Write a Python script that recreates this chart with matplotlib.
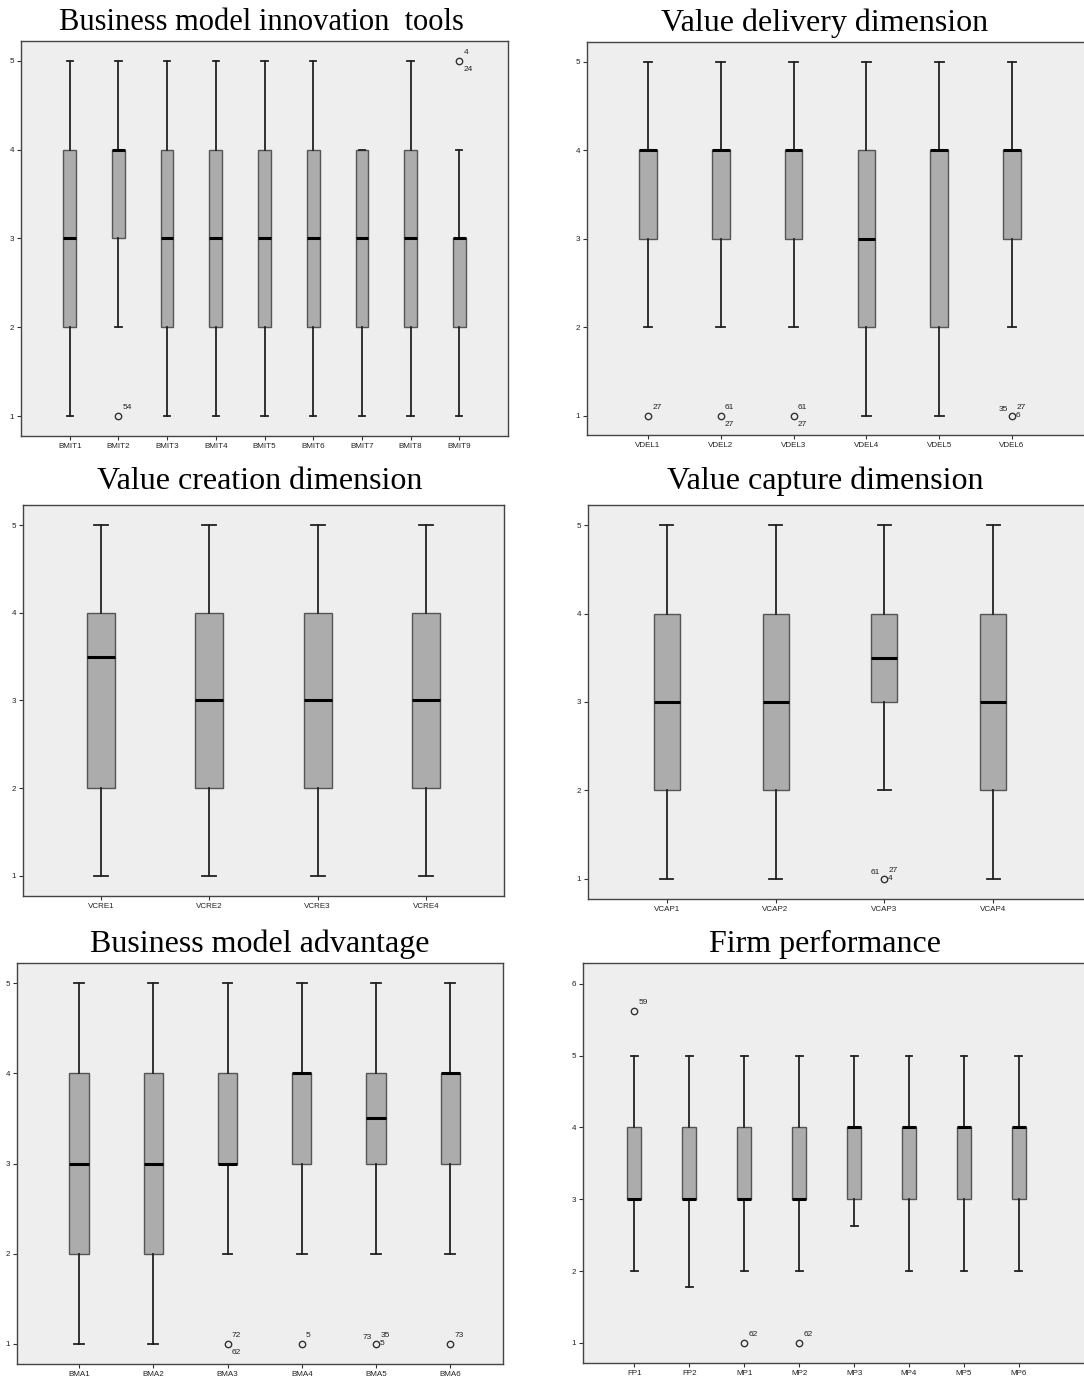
import matplotlib
matplotlib.use("Agg")
import matplotlib.pyplot as plt

# ---------------------------------------------------------------- data
bmit_names = ["BMIT1", "BMIT2", "BMIT3", "BMIT4", "BMIT5", "BMIT6", "BMIT7", "BMIT8", "BMIT9"]
bmit_low = [1, 2, 1, 1, 1, 1, 1, 1, 1]
bmit_q1 = [2, 3, 2, 2, 2, 2, 2, 2, 2]
bmit_med = [3, 4, 3, 3, 3, 3, 3, 3, 3]
bmit_q3 = [4, 4, 4, 4, 4, 4, 4, 4, 3]
bmit_high = [5, 5, 5, 5, 5, 5, 4, 5, 4]
bmit_outliers = [(2, 1, ["54"]), (9, 5, ["4", "24"])]

vdel_names = ["VDEL1", "VDEL2", "VDEL3", "VDEL4", "VDEL5", "VDEL6"]
vdel_low = [2, 2, 2, 1, 1, 2]
vdel_q1 = [3, 3, 3, 2, 2, 3]
vdel_med = [4, 4, 4, 3, 4, 4]
vdel_q3 = [4, 4, 4, 4, 4, 4]
vdel_high = [5, 5, 5, 5, 5, 5]
vdel_outliers = [(1, 1, ["27"]), (2, 1, ["61", "27"]), (3, 1, ["61", "27"]),
                 (6, 1, ["35", "27", "6"])]

vcre_names = ["VCRE1", "VCRE2", "VCRE3", "VCRE4"]
vcre_low = [1, 1, 1, 1]
vcre_q1 = [2, 2, 2, 2]
vcre_med = [3.5, 3, 3, 3]
vcre_q3 = [4, 4, 4, 4]
vcre_high = [5, 5, 5, 5]
vcre_outliers = []

vcap_names = ["VCAP1", "VCAP2", "VCAP3", "VCAP4"]
vcap_low = [1, 1, 2, 1]
vcap_q1 = [2, 2, 3, 2]
vcap_med = [3, 3, 3.5, 3]
vcap_q3 = [4, 4, 4, 4]
vcap_high = [5, 5, 5, 5]
vcap_outliers = [(3, 1, ["61", "27", "4"])]

bma_names = ["BMA1", "BMA2", "BMA3", "BMA4", "BMA5", "BMA6"]
bma_low = [1, 1, 2, 2, 2, 2]
bma_q1 = [2, 2, 3, 3, 3, 3]
bma_med = [3, 3, 3, 4, 3.5, 4]
bma_q3 = [4, 4, 4, 4, 4, 4]
bma_high = [5, 5, 5, 5, 5, 5]
bma_outliers = [(3, 1, ["72", "62"]), (4, 1, ["5"]), (5, 1, ["73", "35", "5"]),
                (6, 1, ["73"])]

fp_names = ["FP1", "FP2", "MP1", "MP2", "MP3", "MP4", "MP5", "MP6"]
fp_low = [2, 1.78, 2, 2, 2.63, 2, 2, 2]
fp_q1 = [3, 3, 3, 3, 3, 3, 3, 3]
fp_med = [3, 3, 3, 3, 4, 4, 4, 4]
fp_q3 = [4, 4, 4, 4, 4, 4, 4, 4]
fp_high = [5, 5, 5, 5, 5, 5, 5, 5]
fp_outliers = [(1, 5.62, ["59"]), (3, 1, ["62"]), (4, 1, ["62"])]

titles = ["Business model innovation  tools", "Value delivery dimension",
          "Value creation dimension", "Value capture dimension",
          "Business model advantage", "Firm performance"]

# ---------------------------------------------------------------- layout
W, H = 1084, 1385
fig = plt.figure(figsize=(W / 100, H / 100), dpi=100)
fig.patch.set_facecolor("white")

BG = "#eeeeee"
BOX = "#acacac"
EDGE = "#555555"

# label placement around an outlier circle, in points, by number of labels
placements = {
    1: [(3, 3.5, "left", "bottom")],
    2: [(3, 3.5, "left", "bottom"), (3, -3.5, "left", "top")],
    3: [(-3, 2, "right", "bottom"), (3, 3.5, "left", "bottom"), (2.5, 0, "left", "center")],
}


def draw_panel(rect_px, xlim, ylim, yticks, names, low, q1, med, q3, high,
               outliers, width, title, title_xy, title_size, title_font):
    l, t, r, b = rect_px
    ax = fig.add_axes([l / W, 1 - b / H, (r - l) / W, (b - t) / H])
    ax.set_facecolor(BG)
    stats = []
    for i, n in enumerate(names):
        stats.append(dict(label=n, whislo=low[i], q1=q1[i], med=med[i],
                          q3=q3[i], whishi=high[i], fliers=[]))
    pos = list(range(1, len(names) + 1))
    ax.bxp(stats, positions=pos, widths=width, capwidths=width * 0.5,
           patch_artist=True, showfliers=False,
           boxprops=dict(facecolor=BOX, edgecolor=EDGE, linewidth=1.0),
           medianprops=dict(color="black", linewidth=2.2, solid_capstyle="butt"),
           whiskerprops=dict(color="#222222", linewidth=1.3),
           capprops=dict(color="#222222", linewidth=1.3))
    for idx, val, labs in outliers:
        ax.plot([idx], [val], marker="o", markersize=4.6, markerfacecolor="none",
                markeredgecolor="#333333", markeredgewidth=1.0, zorder=5)
        for (dx, dy, ha, va), lab in zip(placements[len(labs)], labs):
            ax.annotate(lab, (idx, val), xytext=(dx, dy), textcoords="offset points",
                        ha=ha, va=va, fontsize=6, color="#222222",
                        family="Liberation Sans")
    ax.set_xlim(*xlim)
    ax.set_ylim(*ylim)
    ax.set_xticks(pos)
    ax.set_xticklabels(names, fontsize=5.8, family="Liberation Sans", color="#222222")
    ax.set_yticks(yticks)
    ax.set_yticklabels([str(v) for v in yticks], fontsize=5.8,
                       family="Liberation Sans", color="#222222")
    ax.tick_params(length=3, width=0.8, color="#333333", pad=2)
    for s in ax.spines.values():
        s.set_color("#444444")
        s.set_linewidth(1.0)
    fig.text(title_xy[0] / W, 1 - title_xy[1] / H, title, ha="center", va="baseline",
             fontsize=title_size, family=title_font, color="black")
    return ax


y15 = [1, 2, 3, 4, 5]
draw_panel((21, 41, 508, 436), (0.0, 10.0), (0.775, 5.225), y15,
           bmit_names, bmit_low, bmit_q1, bmit_med, bmit_q3, bmit_high,
           bmit_outliers, 0.26, titles[0], (261, 30), 22, "Liberation Serif")
draw_panel((587, 42, 1092, 435), (0.162, 7.1), (0.785, 5.226), y15,
           vdel_names, vdel_low, vdel_q1, vdel_med, vdel_q3, vdel_high,
           vdel_outliers, 0.24, titles[1], (825, 31), 23, "Liberation Serif")
draw_panel((23, 505, 504, 896), (0.28, 4.72), (0.772, 5.228), y15,
           vcre_names, vcre_low, vcre_q1, vcre_med, vcre_q3, vcre_high,
           vcre_outliers, 0.256, titles[2], (260, 489), 23, "Liberation Serif")
draw_panel((588, 505, 1092, 899), (0.275, 4.91), (0.774, 5.226), y15,
           vcap_names, vcap_low, vcap_q1, vcap_med, vcap_q3, vcap_high,
           vcap_outliers, 0.24, titles[3], (825, 489), 23, "Liberation Serif")
draw_panel((17, 963, 503, 1364), (0.164, 6.71), (0.778, 5.222), y15,
           bma_names, bma_low, bma_q1, bma_med, bma_q3, bma_high,
           bma_outliers, 0.26, titles[4], (260, 952), 23, "Liberation Serif")
draw_panel((583, 963, 1092, 1363), (0.065, 9.33), (0.72, 6.29), [1, 2, 3, 4, 5, 6],
           fp_names, fp_low, fp_q1, fp_med, fp_q3, fp_high,
           fp_outliers, 0.25, titles[5], (825, 952), 23, "Liberation Serif")

fig.savefig("out.png", dpi=100, facecolor="white")
